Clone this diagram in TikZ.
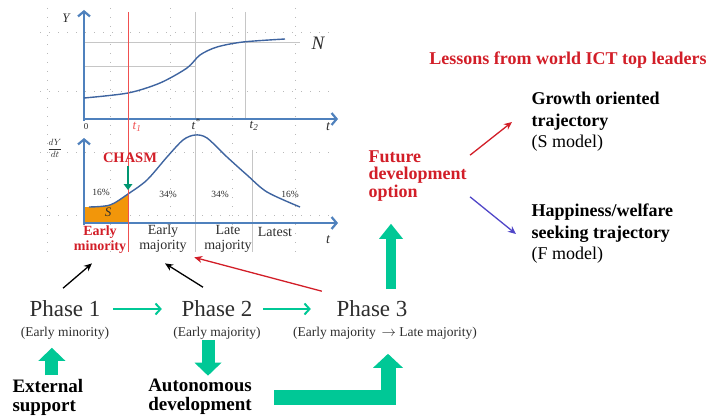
\documentclass[tikz,border=0pt]{standalone}
\usepackage{fontspec}
\setmainfont{Liberation Serif}
\usepackage{tikz}
\usetikzlibrary{arrows.meta,positioning}

\definecolor{axisblue}{RGB}{79,129,189}
\definecolor{curveblue}{RGB}{62,100,160}
\definecolor{leaderred}{RGB}{210,30,40}
\definecolor{chasmline}{RGB}{240,80,80}
\definecolor{flowgreen}{RGB}{0,200,150}
\definecolor{chasmfill}{RGB}{242,150,10}
\definecolor{inkgray}{RGB}{45,45,45}
\definecolor{welfareblue}{RGB}{80,70,200}

\tikzset{
  chartaxis/.style={draw=axisblue, line width=2.2pt, -{Straight Barb[length=5pt,width=12pt]}},
  scurve/.style={draw=curveblue, line width=1.4pt},
  guideline/.style={draw=gray!45, line width=0.7pt},
  griddots/.style={draw=gray!55, line width=1pt, dash pattern=on 1pt off 8pt},
  ticklbl/.style={font=\fontsize{13}{13}\selectfont\itshape, text=inkgray},
  pct/.style={font=\fontsize{9.5}{10}\selectfont, text=inkgray},
  catlbl/.style={font=\fontsize{14}{15}\selectfont, align=center, text=inkgray},
  phaselbl/.style={font=\fontsize{23}{23}\selectfont, text=inkgray, inner sep=0.5pt},
  phasesub/.style={font=\fontsize{13.5}{14}\selectfont, text=inkgray, inner sep=0.5pt},
  boldlbl/.style={font=\fontsize{19}{19}\selectfont\bfseries, align=left},
  optionlbl/.style={font=\fontsize{18}{17.5}\selectfont\bfseries, text=leaderred, align=left},
  modellbl/.style={font=\fontsize{18}{21.5}\selectfont, align=left},
  flowarrow/.style={draw=flowgreen, line width=2pt, -{Straight Barb[length=5pt,width=11pt]}},
  pointer/.style={line width=1.3pt, -{Stealth[length=8pt,width=7pt]}},
  fatarrow/.style={draw=flowgreen, line width=13pt, -{Triangle[length=13pt,width=27pt,line width=0pt]}}
}

\begin{document}
\begin{tikzpicture}[x=1pt,y=-1pt]
\useasboundingbox (0,0) rectangle (712,417);

% faint grid behind the two charts
\foreach \gx in {47,110,170,232,295}
  \draw[griddots] (\gx,8) -- (\gx,256);
\foreach \gy in {33,92,153,215}
  \draw[griddots] (40,\gy) -- (332,\gy);

% upper chart: cumulative adoption
\draw[guideline] (84,42) -- (300,42);
\draw[guideline] (84,66) -- (195,66);
\draw[guideline] (195,12) -- (195,119);
\draw[guideline] (245,12) -- (245,119);
\draw[chartaxis] (84,121) -- (84,10);
\draw[chartaxis] (83,119) -- (338,119);
\draw[scurve] plot[smooth] coordinates {(84,98) (128,93) (160,83) (187,68) (200,55) (217,47) (243,42) (285,39)};

\node[font=\fontsize{13}{13}\selectfont\itshape, text=inkgray] (ylbl) at (66,18) {Y};
\node[font=\fontsize{19}{19}\selectfont\itshape, text=inkgray] (nlbl) at (318,43) {N};
\node[font=\fontsize{9}{9}\selectfont, text=inkgray] (orig) at (86,127) {0};
\node[ticklbl, text=chasmline] (tone) at (137,127) {t\textsubscript{1}};
\node[ticklbl] (tstar) at (196,124) {t\textsuperscript{*}};
\node[ticklbl] (ttwo) at (254,126) {t\textsubscript{2}};
\node[ticklbl, font=\fontsize{14}{14}\selectfont\itshape] (tup) at (328,127) {t};

% lower chart: adoption rate
\draw[guideline] (195,131) -- (195,252);
\draw[guideline] (252,150) -- (252,252);
\begin{scope}
  \clip (84,120) rectangle (128,223);
  \fill[chasmfill] (84,223) -- (84,207) -- plot[smooth] coordinates {(89,207) (110,205) (128,194) (147,180) (167,157) (183,140) (195,135) (207,138) (227,157) (247,175) (267,192) (300,207)} -- (300,223) -- cycle;
\end{scope}
\draw[scurve] plot[smooth] coordinates {(89,207) (110,205) (128,194) (147,180) (167,157) (183,140) (195,135) (207,138) (227,157) (247,175) (267,192) (300,207)};
\draw[chartaxis] (84,225) -- (84,138);
\draw[chartaxis] (83,223) -- (338,223);
\draw[chasmline, line width=1pt] (128,12) -- (128,252);

\node[font=\fontsize{9}{9}\selectfont, text=inkgray] (dydt) at (55,148) {$\displaystyle\frac{dY}{dt}$};
\node[ticklbl, font=\fontsize{14}{14}\selectfont\itshape] (tdown) at (328,240) {t};
\node[pct] (pa) at (101,192) {16\%};
\node[pct] (pb) at (168,194) {34\%};
\node[pct] (pc) at (220,194) {34\%};
\node[pct] (pd) at (290,194) {16\%};
\node[font=\fontsize{13}{13}\selectfont\itshape, text=inkgray] (slbl) at (108,212) {S};

\node[font=\fontsize{14.5}{15}\selectfont\bfseries, text=leaderred] (chasm) at (130,158) {CHASM};
\coordinate (gap) at (128,190);
\draw[draw=flowgreen!75!black, line width=2.5pt, -{Triangle[length=6pt,width=9pt,line width=0pt]}] (chasm.south -| gap) -- (gap);

\node[catlbl, text=leaderred, font=\fontsize{14}{15}\selectfont\bfseries] (emin) at (100,240) {Early\\minority};
\node[catlbl] (emaj) at (163,239) {Early\\majority};
\node[catlbl] (lmaj) at (228,239) {Late\\majority};
\node[catlbl] (latest) at (275,232) {Latest};

% phases
\node[phaselbl] (ph1) at (65,309) {Phase 1};
\node[phaselbl] (ph2) at (217,309) {Phase 2};
\node[phaselbl] (ph3) at (372,309) {Phase 3};
\node[phasesub] (ph1s) at (65,333) {(Early minority)};
\node[phasesub] (ph2s) at (217,333) {(Early majority)};
\node[phasesub] (ph3s) at (385,333) {(Early majority \,$\rightarrow$ Late majority)};

\draw[flowarrow, shorten <=12pt, shorten >=19pt] (ph1.east) -- (ph2.west);
\draw[flowarrow, shorten <=10pt, shorten >=25pt] (ph2.east) -- (ph3.west);

\draw[pointer] ([shift={(-2,-12)}]ph1.north) -- ([shift={(-8,6)}]emin.south);
\draw[pointer] ([shift={(-14,-13)}]ph2.north) -- ([shift={(2,7)}]emaj.south);
\draw[pointer, draw=leaderred] ([shift={(-14,-9)}]ph3.north west) -- ([shift={(4,1)}]emaj.south east);

% support and development
\node[boldlbl, anchor=west] (ext) at (9,397) {External\\support};
\node[boldlbl, align=center] (autodev) at (200,397) {Autonomous\\development};

\draw[fatarrow, shorten >=8pt] ([xshift=4pt]ext.north) -- ([xshift=4pt]ext.north |- ph1s.south);
\draw[fatarrow] ([xshift=8pt]autodev.north |- ph2s.south) -- ([xshift=8pt]autodev.north);
\draw[fatarrow, line width=15pt, -{Triangle[length=14pt,width=30pt,line width=0pt]}, shorten >=14pt] ([xshift=19pt]autodev.east) -| ([xshift=3pt]ph3s.south);

% future options
\node[optionlbl, anchor=west] (fut) at (365,176) {Future\\development\\option};
\draw[fatarrow, line width=10pt, -{Triangle[length=15pt,width=24pt,line width=0pt]}, shorten <=11pt, shorten >=19pt] ([xshift=19pt]ph3.north) -- ([xshift=19pt]ph3.north |- fut.south);

\node[font=\fontsize{18}{18}\selectfont\bfseries, text=leaderred] (lesson) at (568,60) {Lessons from world ICT top leaders};
\node[modellbl, anchor=west] (grow) at (528,122) {\textbf{Growth oriented}\\\textbf{trajectory}\\(S model)};
\node[modellbl, anchor=west] (happy) at (528,234) {\textbf{Happiness/welfare}\\\textbf{seeking trajectory}\\(F model)};

\draw[pointer, draw=leaderred] ([yshift=-8pt]fut.north east) -- ([xshift=-16pt]grow.west);
\draw[pointer, draw=welfareblue] ([yshift=8pt]fut.south east) -- ([xshift=-12pt]happy.west);
\end{tikzpicture}
\end{document}
